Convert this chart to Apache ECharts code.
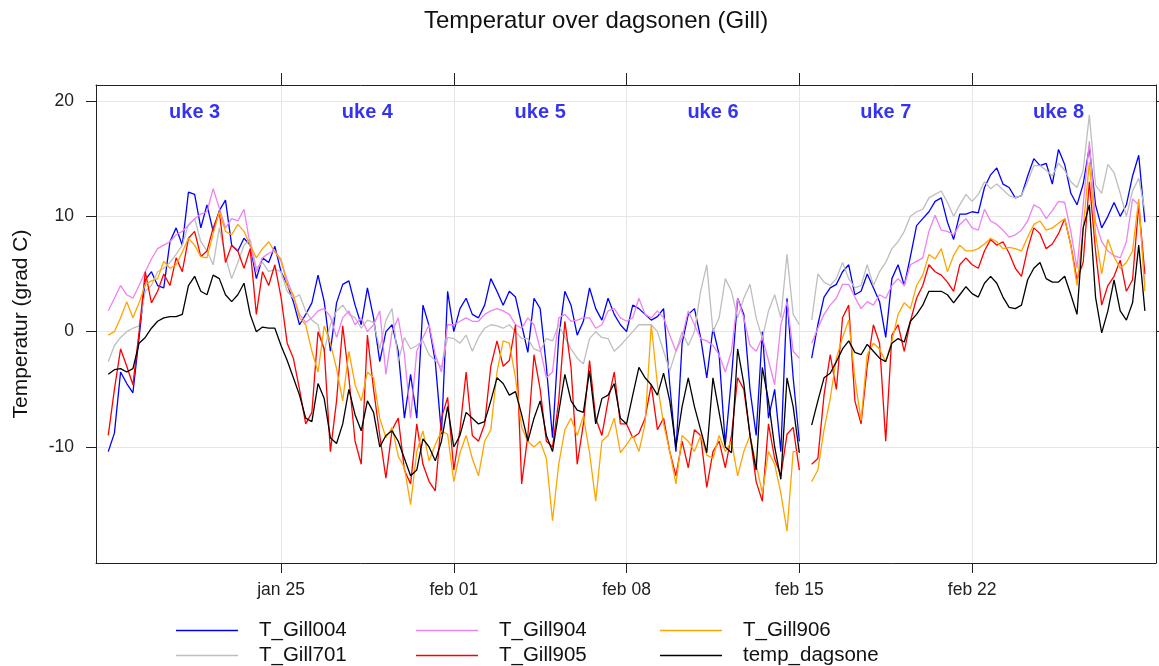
<!DOCTYPE html>
<html>
<head>
<meta charset="utf-8">
<title>Temperatur over dagsonen (Gill)</title>
<script src="https://cdn.jsdelivr.net/npm/echarts@6/dist/echarts.min.js"></script>
<style>
  html, body { margin: 0; padding: 0; background: #fff; }
  #chart { width: 1159px; height: 666px; }
</style>
</head>
<body>
<div id="chart"></div>
<script>
// 6-timers verdier fra 18. jan 00:00 til 1. mars 00:00 (4 per dag)
var startTime = Date.parse('2021-01-18T00:00:00Z');
var stepHours = 6;

var tickDates = ['2021-01-25', '2021-02-01', '2021-02-08', '2021-02-15', '2021-02-22'];
var tickLabels = ['jan 25', 'feb 01', 'feb 08', 'feb 15', 'feb 22'];
var yTicks = [-10, 0, 10, 20];

var weekLabels = ['uke 3', 'uke 4', 'uke 5', 'uke 6', 'uke 7', 'uke 8'];
var weekMid = ['2021-01-21T12:00:00Z', '2021-01-28T12:00:00Z', '2021-02-04T12:00:00Z',
               '2021-02-11T12:00:00Z', '2021-02-18T12:00:00Z', '2021-02-25T12:00:00Z'];
var weekLabelY = 19;

var seriesNames = ['T_Gill004', 'T_Gill701', 'T_Gill904', 'T_Gill905', 'T_Gill906', 'temp_dagsone'];
var seriesColors = ['#0000ff', '#bebebe', '#ee82ee', '#ff0000', '#ffa500', '#000000'];

var T_Gill004 = [
  -10.4, -8.8, -3.5, -4.5,   -5.3, -0.5, 4.5, 5.2,   4.0, 3.8, 7.8, 9.0,   7.5, 12.1, 11.9, 9.0,
  11.0, 8.7, 10.5, 11.4,     7.5, 7.0, 8.1, 7.5,     4.6, 6.4, 6.0, 7.4,   5.2, 4.1, 2.6, 0.6,
  1.5, 2.5, 4.9, 2.6,        -1.7, 2.5, 4.1, 4.4,    2.3, 0.6, 3.8, 1.2,   -2.6, 0.0, 0.6, -1.7,
  -7.5, -3.7, -7.5, 2.3,     0.5, -2.6, -8.9, 3.5,   0.0, 2.0, 2.9, 1.5,   1.2, 2.3, 4.6, 3.5,
  2.3, 3.5, 3.0, 0.6,        -1.8, 2.9, 2.0, -3.0,   -9.2, -0.5, 3.5, 2.3, -0.3, 0.9, 3.8, 2.0,
  1.0, 2.9, 1.5, 0.6,        0.0, 2.3, 2.0, 1.5,     1.0, 1.3, 2.0, -4.6,  -10.4, -1.0, 1.5, 2.0,
  -0.5, -4.0, 0.3, -2.0,     -9.8, -4.0, 2.9, 1.5,   -5.0, -9.0, 0.0, -7.5, -5.0, -10.4, 2.9, -4.0,
  -9.5, null, -2.3, 0.6,     3.0, 3.8, 4.1, 5.2,     5.8, 3.2, 3.5, 5.0,   3.8, 2.6, -0.5, 4.6,
  5.8, 4.0, 6.5, 9.2,        9.8, 10.4, 11.3, 11.6,  9.5, 8.0, 10.2, 10.2, 10.4, 10.3, 12.5, 13.6,
  14.2, 12.8, 12.5, 11.6,    11.8, 13.5, 15.0, 14.4, 14.6, 12.8, 15.8, 14.5, 12.0, 11.0, 12.8, 16.0,
  11.0, 9.0, 10.0, 11.2,     10.0, 11.0, 13.5, 15.3, 9.5
];
var T_Gill701 = [
  -2.6, -1.2, -0.5, 0.0,     0.3, 0.5, 3.5, 4.0,     5.2, 5.5, 6.0, 6.7,   7.5, 9.3, 9.8, 7.8,
  7.0, 5.8, 9.0, 6.5,        4.6, 6.0, 7.5, 8.0,     5.5, 6.0, 5.2, 5.4,   5.2, 3.5, 2.9, 3.2,
  1.8, 1.0, 0.6, -1.7,       0.6, 1.8, 2.3, 1.5,     1.2, 0.3, 1.0, 0.8,   -1.5, 1.0, 2.0, -2.6,
  -0.5, -1.5, -1.2, -0.8,    -2.0, -2.5, -3.1, -0.5, -0.6, -1.0, -0.3, -1.7, -0.5, 0.3, 0.6, 0.5,
  0.3, 0.6, 0.0, -0.6,       -0.6, -1.5, -1.7, -0.6, -0.8, 0.6, -0.5, -1.5, -2.3, -2.8, -0.6, 0.0,
  -0.5, -0.6, -1.7, -1.2,    -0.6, 0.0, 0.6, 0.6,    0.6, 0.0, -1.7, -3.4, -1.7, 0.0, -1.2, 0.0,
  3.5, 5.8, 0.0, 1.2,        4.6, 3.5, 1.2, 2.9,     4.1, 1.2, -0.6, 1.8,  3.2, 1.2, 6.7, 1.5,
  0.6, null, 1.0, 5.0,       4.3, 4.0, 4.6, 6.0,     4.6, 3.8, 4.0, 5.8,   4.0, 5.2, 6.0, 7.2,
  7.8, 8.7, 10.0, 10.4,      10.6, 11.6, 11.9, 12.2, 11.2, 10.0, 11.0, 11.9, 11.3, 11.9, 13.0, 12.4,
  12.8, 12.3, 11.8, 11.6,    11.8, 13.0, 14.4, 14.4, 14.0, 13.5, 14.6, 14.0, 13.0, 12.5, 14.0, 18.8,
  12.7, 12.0, 14.5, 13.8,    12.0, 10.0, 12.2, 13.3, 10.5
];
var T_Gill904 = [
  1.8, 2.9, 4.0, 3.2,        2.9, 4.0, 5.2, 6.3,     7.2, 7.5, 7.8, 8.4,   8.7, 9.2, 9.8, 10.2,
  10.4, 12.4, 10.7, 9.0,     9.8, 9.6, 10.6, 7.5,    5.2, 6.4, 6.8, 7.0,   6.1, 4.5, 3.0, 1.5,
  0.8, 1.2, 1.8, 2.0,        1.3, -0.5, 1.2, 1.8,    0.6, 1.2, 0.0, 0.6,   1.8, -3.7, 0.0, 1.2,
  -2.0, -7.5, -1.7, -0.5,    0.6, -2.0, -3.5, 0.6,   0.6, 0.9, 1.2, 0.9,   0.9, 1.5, 1.8, 2.0,
  1.8, 1.5, 0.6, 0.3,        1.2, 0.6, -1.5, -4.0,   -3.5, 1.2, 1.5, 0.9,  1.0, 1.2, 1.2, 0.3,
  0.6, 1.8, 2.0, 1.2,        0.9, 1.2, 2.9, 1.5,     1.2, 1.8, 1.2, -0.3,  -1.7, -0.5, 1.8, 0.6,
  -0.6, -0.8, -1.2, -2.0,    -3.5, -1.7, 2.9, 1.2,   -1.2, -1.7, -0.5, -2.5, -4.6, 0.6, 2.6, -1.7,
  -2.3, null, -1.0, 0.3,     1.5, 2.3, 2.9, 4.1,     4.1, 3.0, 2.0, 2.6,   2.3, 3.2, 2.9, 4.0,
  4.6, 4.0, 5.8, 6.1,        6.4, 8.7, 10.1, 8.8,    8.7, 8.4, 9.3, 9.8,   9.0, 8.8, 10.6, 9.6,
  9.3, 8.8, 8.2, 8.4,        8.8, 9.6, 11.0, 10.7,   9.8, 10.5, 11.3, 11.2, 8.7, 5.5, 11.0, 16.5,
  9.5, 7.8, 7.0, 6.6,        6.4, 7.8, 11.5, 11.0,   4.0
];
var T_Gill905 = [
  -9.0, -5.0, -1.5, -3.0,    -4.6, 0.0, 5.2, 2.5,    3.5, 5.0, 4.0, 6.4,   5.2, 8.1, 8.7, 6.5,
  7.0, 9.0, 10.4, 6.0,       7.5, 7.0, 5.5, 7.2,     1.5, 5.2, 4.0, 5.8,   3.0, -1.0, -2.3, -5.0,
  -8.0, -7.0, 0.0, -1.5,     -10.4, -6.0, 0.5, -4.0, -9.5, -11.5, -0.3, -5.0, -9.0, -12.7, -8.5, -7.5,
  -12.0, -13.2, -8.0, -11.5, -13.0, -13.8, -7.5, -5.7, -12.0, -8.5, -3.5, -9.0, -9.5, -8.0, -3.0, -0.8,
  -3.0, -2.5, 0.6, -13.2,    -9.0, -2.0, -5.0, -9.5, -10.0, -6.0, 0.9, -3.1, -11.5, -8.0, -2.5, -7.5,
  -9.0, -6.0, -3.5, -8.0,    -8.0, -9.2, -8.8, -7.5, -4.6, -8.5, -7.5, -10.4, -12.5, -9.5, -11.8, -8.5,
  -9.0, -13.5, -10.4, -9.5,  -11.8, -9.0, -4.0, -5.0, -8.9, -13.0, -14.7, -8.0, -11.0, -12.5, -8.9, -8.3,
  -12.0, null, -11.5, -11.0, -5.5, -2.0, -5.0, 1.2,  2.3, -6.0, -8.0, -3.0, 0.6, -1.0, -9.5, -0.3,
  0.6, -1.7, 0.9, 2.9,       4.0, 5.8, 5.2, 4.9,     4.3, 3.5, 5.8, 6.4,   5.8, 5.5, 7.0, 8.0,
  7.5, 7.8, 6.8, 5.5,        4.8, 7.2, 9.0, 8.5,     7.2, 7.6, 8.5, 9.8,   7.5, 4.5, 6.0, 13.0,
  7.0, 2.3, 4.0, 4.8,        6.2, 3.5, 4.5, 11.0,    5.0
];
var T_Gill906 = [
  -0.3, 0.0, 1.2, 2.6,       1.2, 2.5, 4.1, 4.4,     4.6, 6.1, 5.5, 5.8,   6.9, 8.1, 7.5, 6.5,
  6.4, 8.5, 10.4, 8.7,       8.4, 9.3, 8.7, 7.5,     6.4, 7.2, 7.8, 6.9,   6.3, 4.0, 3.2, 1.2,
  0.6, -1.7, -3.5, 0.5,      -1.0, -3.2, -6.0, -1.7, -4.6, -6.0, -3.5, -4.0, -7.5, -9.2, -8.3, -10.8,
  -11.8, -15.0, -10.4, -8.6, -11.2, -9.8, -8.6, -8.9, -13.0, -10.5, -9.0, -11.0, -12.5, -9.5, -8.5, -3.5,
  -0.8, -1.0, -4.0, -8.3,    -9.5, -10.0, -9.5, -11.0, -16.4, -11.5, -8.5, -7.5, -9.0, -7.3, -10.5, -14.7,
  -9.5, -9.0, -7.5, -10.5,   -9.8, -9.0, -10.4, -8.0, 0.6, -4.6, -8.0, -10.4, -13.2, -9.0, -9.5, -10.4,
  -9.0, -10.7, -11.0, -9.0,  -10.4, -9.5, -12.5, -10.4, -9.0, -11.5, -14.0, -10.4, -11.5, -14.0, -17.3, -10.4,
  -10.4, null, -13.0, -12.0, -8.5, -5.8, -2.3, -0.5, 1.0, -4.0, -7.7, -2.0, -1.0, -1.5, -2.6, -0.8,
  1.5, 2.5, 2.0, 4.0,        4.9, 6.7, 6.3, 7.2,     5.2, 6.6, 7.5, 7.0,   7.0, 7.2, 7.6, 8.1,
  7.8, 7.2, 7.3, 7.2,        7.0, 8.2, 9.3, 9.6,     8.8, 9.0, 9.4, 9.8,   7.5, 4.0, 9.0, 14.7,
  8.5, 5.0, 8.0, 6.5,        5.5, 6.0, 7.0, 11.5,    3.5
];
var temp_dagsone = [
  -3.7, -3.3, -3.2, -3.5,    -3.2, -1.0, -0.5, 0.3,  0.9, 1.2, 1.3, 1.3,   1.5, 4.0, 4.8, 3.5,
  3.2, 4.9, 4.6, 3.2,        2.6, 3.2, 4.2, 1.5,     0.0, 0.4, 0.3, 0.3,   -1.2, -2.5, -4.0, -5.5,
  -7.5, -7.8, -4.5, -5.8,    -9.2, -9.7, -8.0, -5.0, -7.2, -8.6, -6.0, -7.0, -10.0, -9.0, -8.6, -9.5,
  -11.0, -12.5, -12.0, -9.3, -10.0, -11.2, -9.5, -6.5, -10.0, -9.0, -7.0, -7.5, -8.0, -7.8, -6.0, -4.0,
  -4.5, -5.5, -5.2, -7.2,    -9.5, -7.5, -6.0, -9.0, -10.4, -7.0, -3.7, -6.0, -6.8, -7.0, -3.4, -8.0,
  -5.8, -5.5, -4.5, -7.5,    -8.0, -5.5, -3.1, -4.0, -4.6, -5.5, -3.6, -6.0, -10.0, -6.5, -4.0, -6.5,
  -8.5, -10.5, -4.0, -7.0,   -10.0, -10.5, -1.5, -4.5, -9.0, -12.0, -3.1, -6.0, -10.0, -12.8, -4.0, -6.5,
  -10.5, null, -8.1, -6.0,   -4.0, -3.6, -2.6, -1.5, -0.8, -1.8, -2.0, -1.1, -1.7, -2.3, -2.6, -1.0,
  -0.6, -0.9, 0.9, 1.5,      2.3, 3.5, 3.5, 3.5,     3.2, 2.5, 3.2, 3.9,   3.3, 3.0, 4.2, 4.8,
  4.2, 3.0, 2.1, 2.0,        2.3, 4.5, 5.5, 6.0,     4.6, 4.3, 4.3, 4.8,   3.2, 1.5, 9.0, 11.0,
  3.0, -0.1, 1.8, 4.5,       1.8, 1.0, 2.5, 7.5,     1.8
];
var seriesValues = [T_Gill004, T_Gill701, T_Gill904, T_Gill905, T_Gill906, temp_dagsone];

// legend grid: 3 columns x 2 rows, filled column by column
var legendLeft = [176, 176, 416, 416, 660, 660];
var legendTop = [620, 645, 620, 645, 620, 645];

var DAY = 86400000;
var xMin = startTime - 0.496 * DAY;
var xMax = startTime + 42.45 * DAY;
var yMin = -20.06, yMax = 21.39;

var tickTimes = tickDates.map(function (d) { return Date.parse(d + 'T00:00:00Z'); });

function toPairs(values) {
  return values.map(function (v, i) {
    return [startTime + i * stepHours * 3600000, v];
  });
}

var lineSeries = seriesNames.map(function (name, k) {
  return {
    name: name,
    type: 'line',
    data: toPairs(seriesValues[k]),
    showSymbol: false,
    symbol: 'none',
    connectNulls: false,
    color: seriesColors[k],
    lineStyle: { width: 1.3, color: seriesColors[k] },
    emphasis: { disabled: true },
    z: 2 + k
  };
});

var weekSeries = {
  name: 'uker',
  type: 'scatter',
  data: weekMid.map(function (t, i) { return [Date.parse(t), weekLabelY, weekLabels[i]]; }),
  symbolSize: 0,
  itemStyle: { color: 'rgba(0,0,0,0)' },
  label: {
    show: true,
    position: 'inside',
    formatter: function (p) { return p.data[2]; },
    color: '#0000ee',
    fontWeight: 'bold',
    fontSize: 20,
    fontFamily: 'Liberation Sans'
  },
  silent: true,
  z: 10
};

var legends = seriesNames.map(function (name, k) {
  return {
    left: legendLeft[k],
    top: legendTop[k],
    padding: 0,
    data: [name],
    icon: 'rect',
    itemWidth: 62,
    itemHeight: 1.6,
    selectedMode: false,
    textStyle: {
      fontFamily: 'Liberation Sans',
      fontSize: 20.5,
      lineHeight: 20,
      color: '#111',
      padding: [0, 0, 0, 16]
    }
  };
});

function tickLabel(v) {
  for (var i = 0; i < tickTimes.length; i++) {
    if (Math.abs(tickTimes[i] - v) < 1000) return tickLabels[i];
  }
  return '';
}

var chart = echarts.init(document.getElementById('chart'));
chart.setOption({
  animation: false,
  backgroundColor: '#fff',
  textStyle: { fontFamily: 'Liberation Sans' },
  title: {
    text: 'Temperatur over dagsonen (Gill)',
    left: 424,
    top: 9,
    padding: 0,
    textStyle: { fontFamily: 'Liberation Sans', fontSize: 24, fontWeight: 'normal', color: '#111' }
  },
  legend: legends,
  grid: { left: 96, right: 3, top: 85, bottom: 103, containLabel: false },
  xAxis: [{
    type: 'value',
    position: 'bottom',
    min: xMin,
    max: xMax,
    axisLine: { show: true, onZero: false, lineStyle: { color: '#222', width: 1 } },
    axisTick: { show: true, customValues: tickTimes, length: 10, lineStyle: { color: '#222' } },
    axisLabel: {
      customValues: tickTimes,
      formatter: tickLabel,
      fontSize: 17.5,
      color: '#222',
      margin: 18
    },
    splitLine: { show: true, lineStyle: { color: '#e6e6e6', width: 1 } }
  }, {
    type: 'value',
    position: 'top',
    min: xMin,
    max: xMax,
    axisLine: { show: true, onZero: false, lineStyle: { color: '#222', width: 1 } },
    axisTick: { show: true, customValues: tickTimes, length: 12, lineStyle: { color: '#222' } },
    axisLabel: { show: false },
    splitLine: { show: false }
  }],
  yAxis: [{
    type: 'value',
    position: 'left',
    min: yMin,
    max: yMax,
    name: 'Temperatur (grad C)',
    nameLocation: 'middle',
    nameGap: 64,
    nameTextStyle: { fontSize: 21, color: '#111', fontFamily: 'Liberation Sans' },
    axisLine: { show: true, onZero: false, lineStyle: { color: '#222', width: 1 } },
    axisTick: { show: true, customValues: yTicks, length: 10, lineStyle: { color: '#222' } },
    axisLabel: { customValues: yTicks, fontSize: 17.5, color: '#222', margin: 22 },
    splitLine: { show: true, lineStyle: { color: '#e6e6e6', width: 1 } }
  }, {
    type: 'value',
    position: 'right',
    min: yMin,
    max: yMax,
    axisLine: { show: true, onZero: false, lineStyle: { color: '#222', width: 1 } },
    axisTick: { show: true, customValues: yTicks, length: 6, lineStyle: { color: '#222' } },
    axisLabel: { show: false },
    splitLine: { show: false }
  }],
  series: lineSeries.concat([weekSeries])
});
</script>
</body>
</html>
